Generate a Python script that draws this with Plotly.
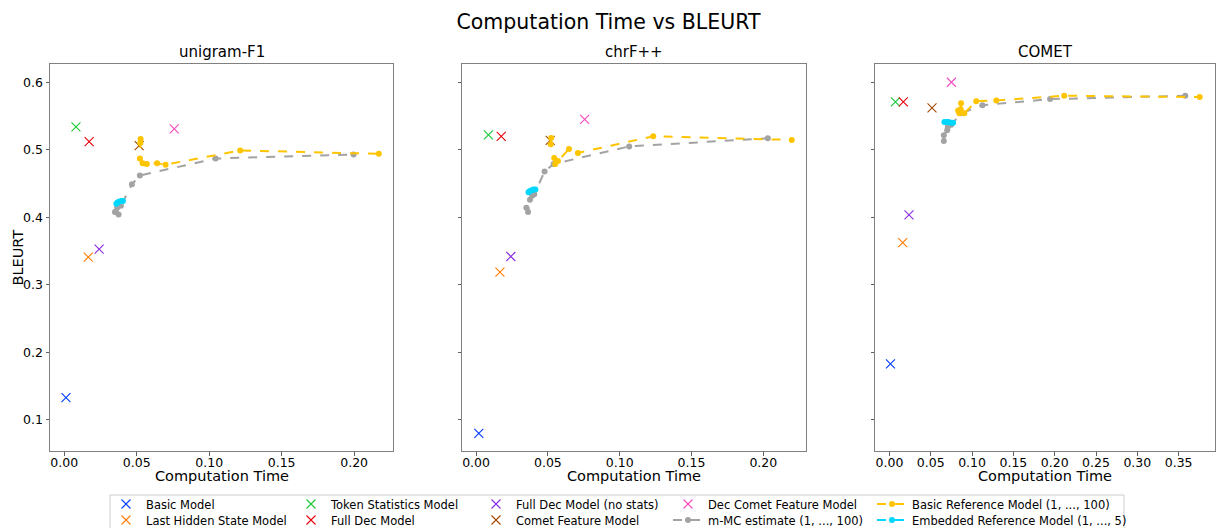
import plotly.graph_objects as go

metrics = ["unigram-F1", "chrF++", "COMET"]

# single-point models: one value per metric (unigram-F1, chrF++, COMET)
basic_time = [0.0012, 0.0019, 0.0012]
basic_bleurt = [0.133, 0.080, 0.183]
last_hidden_time = [0.0166, 0.0166, 0.0160]
last_hidden_bleurt = [0.341, 0.319, 0.3625]
token_stats_time = [0.0081, 0.0086, 0.0072]
token_stats_bleurt = [0.534, 0.522, 0.571]
full_dec_time = [0.0172, 0.0175, 0.0168]
full_dec_bleurt = [0.512, 0.520, 0.571]
full_dec_nostats_time = [0.0241, 0.0242, 0.0236]
full_dec_nostats_bleurt = [0.353, 0.342, 0.4035]
comet_feat_time = [0.0517, 0.0516, 0.0515]
comet_feat_bleurt = [0.506, 0.514, 0.562]
dec_comet_time = [0.0759, 0.0756, 0.0750]
dec_comet_bleurt = [0.531, 0.545, 0.600]

# curves
mmc_time_unigram = [0.0350, 0.0375, 0.0365, 0.0391, 0.0467, 0.0522, 0.1044, 0.1996]
mmc_bleurt_unigram = [0.408, 0.404, 0.414, 0.417, 0.449, 0.462, 0.487, 0.493]
mmc_time_chrf = [0.0350, 0.0362, 0.0375, 0.0390, 0.0405, 0.0477, 0.0540, 0.1066, 0.2031]
mmc_bleurt_chrf = [0.414, 0.408, 0.426, 0.432, 0.434, 0.468, 0.479, 0.505, 0.517]
mmc_time_comet = [0.0658, 0.0658, 0.0699, 0.0706, 0.0747, 0.0867, 0.1125, 0.1944, 0.3580]
mmc_bleurt_comet = [0.513, 0.5215, 0.529, 0.534, 0.537, 0.554, 0.566, 0.575, 0.580]

bref_time_unigram = [0.0527, 0.0525, 0.0522, 0.0541, 0.0570, 0.0641, 0.0699, 0.1214, 0.2170]
bref_bleurt_unigram = [0.516, 0.510, 0.487, 0.480, 0.479, 0.480, 0.478, 0.499, 0.494]
bref_time_chrf = [0.0523, 0.0520, 0.0544, 0.0551, 0.0570, 0.0647, 0.0709, 0.1233, 0.2198]
bref_bleurt_chrf = [0.5175, 0.508, 0.488, 0.479, 0.4835, 0.501, 0.4953, 0.520, 0.5146]
bref_time_comet = [0.0867, 0.0862, 0.0831, 0.0846, 0.0906, 0.1050, 0.1293, 0.2115, 0.3755]
bref_bleurt_comet = [0.569, 0.560, 0.558, 0.554, 0.554, 0.572, 0.573, 0.580, 0.578]

eref_time_unigram = [0.0360, 0.0368, 0.0378, 0.0392, 0.0405]
eref_bleurt_unigram = [0.420, 0.422, 0.423, 0.424, 0.424]
eref_time_chrf = [0.0365, 0.0375, 0.0387, 0.0400, 0.0413]
eref_bleurt_chrf = [0.437, 0.439, 0.440, 0.441, 0.441]
eref_time_comet = [0.0665, 0.0690, 0.0715, 0.0742, 0.0770]
eref_bleurt_comet = [0.541, 0.541, 0.541, 0.540, 0.540]

FONT = "DejaVu Sans"
W, H = 1217, 528
ML, MR, MT, MB = 50, 2, 64, 77
PW = W - ML - MR
PH = H - MT - MB


def px_x(p):
    return (p - ML) / PW


def px_y(p):
    return (H - MB - p) / PH


points = [
    ("Basic Model", basic_time, basic_bleurt, "#023eff"),
    ("Last Hidden State Model", last_hidden_time, last_hidden_bleurt, "#ff7c00"),
    ("Token Statistics Model", token_stats_time, token_stats_bleurt, "#1ac938"),
    ("Full Dec Model", full_dec_time, full_dec_bleurt, "#e8000b"),
    ("Full Dec Model (no stats)", full_dec_nostats_time, full_dec_nostats_bleurt, "#8b2be2"),
    ("Comet Feature Model", comet_feat_time, comet_feat_bleurt, "#9f4800"),
    ("Dec Comet Feature Model", dec_comet_time, dec_comet_bleurt, "#f14cc1"),
]
# legend placement: columns 1-3 in legend/legend2 (one per row); columns 4 and 5 separate
row_of = {
    "Basic Model": "legend", "Token Statistics Model": "legend",
    "Full Dec Model (no stats)": "legend",
    "Dec Comet Feature Model": "legend3",
    "Basic Reference Model (1, ..., 100)": "legend5",
    "Last Hidden State Model": "legend2", "Full Dec Model": "legend2",
    "Comet Feature Model": "legend2",
    "m-MC estimate (1, ..., 100)": "legend4",
    "Embedded Reference Model (1, ..., 5)": "legend6",
}
rank_of = {
    "Basic Model": 1, "Token Statistics Model": 2, "Full Dec Model (no stats)": 3,
    "Dec Comet Feature Model": 4, "Basic Reference Model (1, ..., 100)": 5,
    "Last Hidden State Model": 1, "Full Dec Model": 2, "Comet Feature Model": 3,
    "m-MC estimate (1, ..., 100)": 4, "Embedded Reference Model (1, ..., 5)": 5,
}

fig = go.Figure()
axes = [("x", "y"), ("x2", "y2"), ("x3", "y3")]

for name, tl, bl, col in points:
    for i, (xa, ya) in enumerate(axes):
        fig.add_trace(go.Scatter(
            x=[tl[i]], y=[bl[i]], mode="markers", name=name,
            legendgroup=name, showlegend=(i == 0), legend=row_of[name],
            legendrank=rank_of[name],
            marker=dict(symbol="x-thin", size=9, color=col,
                        line=dict(width=1.1, color=col)),
            xaxis=xa, yaxis=ya, cliponaxis=False))

curves = [
    ("m-MC estimate (1, ..., 100)", [mmc_time_unigram, mmc_time_chrf, mmc_time_comet],
     [mmc_bleurt_unigram, mmc_bleurt_chrf, mmc_bleurt_comet], "#a3a3a3"),
    ("Basic Reference Model (1, ..., 100)", [bref_time_unigram, bref_time_chrf, bref_time_comet],
     [bref_bleurt_unigram, bref_bleurt_chrf, bref_bleurt_comet], "#ffc400"),
    ("Embedded Reference Model (1, ..., 5)", [eref_time_unigram, eref_time_chrf, eref_time_comet],
     [eref_bleurt_unigram, eref_bleurt_chrf, eref_bleurt_comet], "#00d7ff"),
]
for name, ts, bs, col in curves:
    for i, (xa, ya) in enumerate(axes):
        fig.add_trace(go.Scatter(
            x=ts[i], y=bs[i], mode="lines+markers", name=name,
            legendgroup=name, showlegend=(i == 0), legend=row_of[name],
            legendrank=rank_of[name],
            line=dict(color=col, width=2, dash="dash"),
            marker=dict(symbol="circle", size=6, color=col),
            xaxis=xa, yaxis=ya))

doms = [[px_x(50), px_x(393)], [px_x(462), px_x(806)], [px_x(875), px_x(1215)]]
xranges = [[-0.0098, 0.2268], [-0.0098, 0.2297], [-0.0175, 0.394]]
yrange = [0.054, 0.627]

axis_common = dict(showline=True, linecolor="#808080", linewidth=1, mirror=True,
                   showgrid=False, zeroline=False,
                   tickfont=dict(family=FONT, size=12.5, color="#000"))
# x axes: labels hug the axis (major tick length 0); the visible tick marks are
# drawn as minor ticks at the same spacing
xtick_style = dict(ticks="outside", ticklen=0, tickcolor="#606060",
                   minor=dict(ticks="outside", ticklen=3.5, tickcolor="#606060",
                              dtick=0.05, tick0=0.00001))

layout = dict(
    width=W, height=H, plot_bgcolor="white", paper_bgcolor="white",
    margin=dict(l=ML, r=MR, t=MT, b=MB, autoexpand=False),
    font=dict(family=FONT, color="#000"),
    title=dict(text="Computation Time vs BLEURT", x=0.5, xanchor="center",
               y=1 - 22 / H, yanchor="middle", yref="container",
               font=dict(family=FONT, size=20.5, color="#000")),
)
for i in range(3):
    sfx = "" if i == 0 else str(i + 1)
    layout["xaxis" + sfx] = dict(
        domain=doms[i], range=xranges[i], anchor="y" + sfx, dtick=0.05, tick0=0,
        tickformat=".2f", **xtick_style, **axis_common)
    ydict = dict(domain=[0, 1], range=yrange, anchor="x" + sfx, dtick=0.1, tick0=0,
                 tickformat=".1f", ticks="outside", ticklen=3.5, tickcolor="#606060",
                 **axis_common)
    if i != 0:
        ydict["showticklabels"] = False
        ydict["matches"] = "y"
    layout["yaxis" + sfx] = ydict

leg_common = dict(orientation="h", xanchor="left", yanchor="middle",
                  font=dict(family=FONT, size=11.5, color="#000"),
                  bgcolor="rgba(0,0,0,0)", borderwidth=0, itemwidth=30,
                  tracegroupgap=0)
layout["legend"] = dict(x=px_x(106), y=px_y(504), entrywidth=140,
                        entrywidthmode="pixels", **leg_common)
layout["legend2"] = dict(x=px_x(106), y=px_y(520), entrywidth=140,
                         entrywidthmode="pixels", **leg_common)
layout["legend3"] = dict(x=px_x(668), y=px_y(504), **leg_common)
layout["legend4"] = dict(x=px_x(668), y=px_y(520), **leg_common)
layout["legend5"] = dict(x=px_x(872), y=px_y(504), **leg_common)
layout["legend6"] = dict(x=px_x(872), y=px_y(520), **leg_common)

fig.update_layout(**layout)

subtitle_x = [(50 + 393) / 2, (462 + 806) / 2, (875 + 1215) / 2]
for t, sx in zip(metrics, subtitle_x):
    fig.add_annotation(text=t, x=px_x(sx), y=px_y(52), xref="paper", yref="paper",
                       showarrow=False, xanchor="center", yanchor="middle",
                       font=dict(family=FONT, size=15, color="#000"))
    fig.add_annotation(text="Computation Time", x=px_x(sx), y=px_y(476),
                       xref="paper", yref="paper", showarrow=False,
                       xanchor="center", yanchor="middle",
                       font=dict(family=FONT, size=14.5, color="#000"))

fig.add_annotation(text="BLEURT", x=px_x(17), y=px_y((64 + 451) / 2), xref="paper",
                   yref="paper", showarrow=False, textangle=-90, xanchor="center",
                   yanchor="middle", font=dict(family=FONT, size=14.5, color="#000"))

fig.add_shape(type="rect", xref="paper", yref="paper",
              x0=px_x(110), x1=px_x(1124), y0=px_y(495), y1=px_y(545),
              line=dict(color="#cccccc", width=1), fillcolor="rgba(0,0,0,0)", layer="above")

fig.write_html("out.html")
